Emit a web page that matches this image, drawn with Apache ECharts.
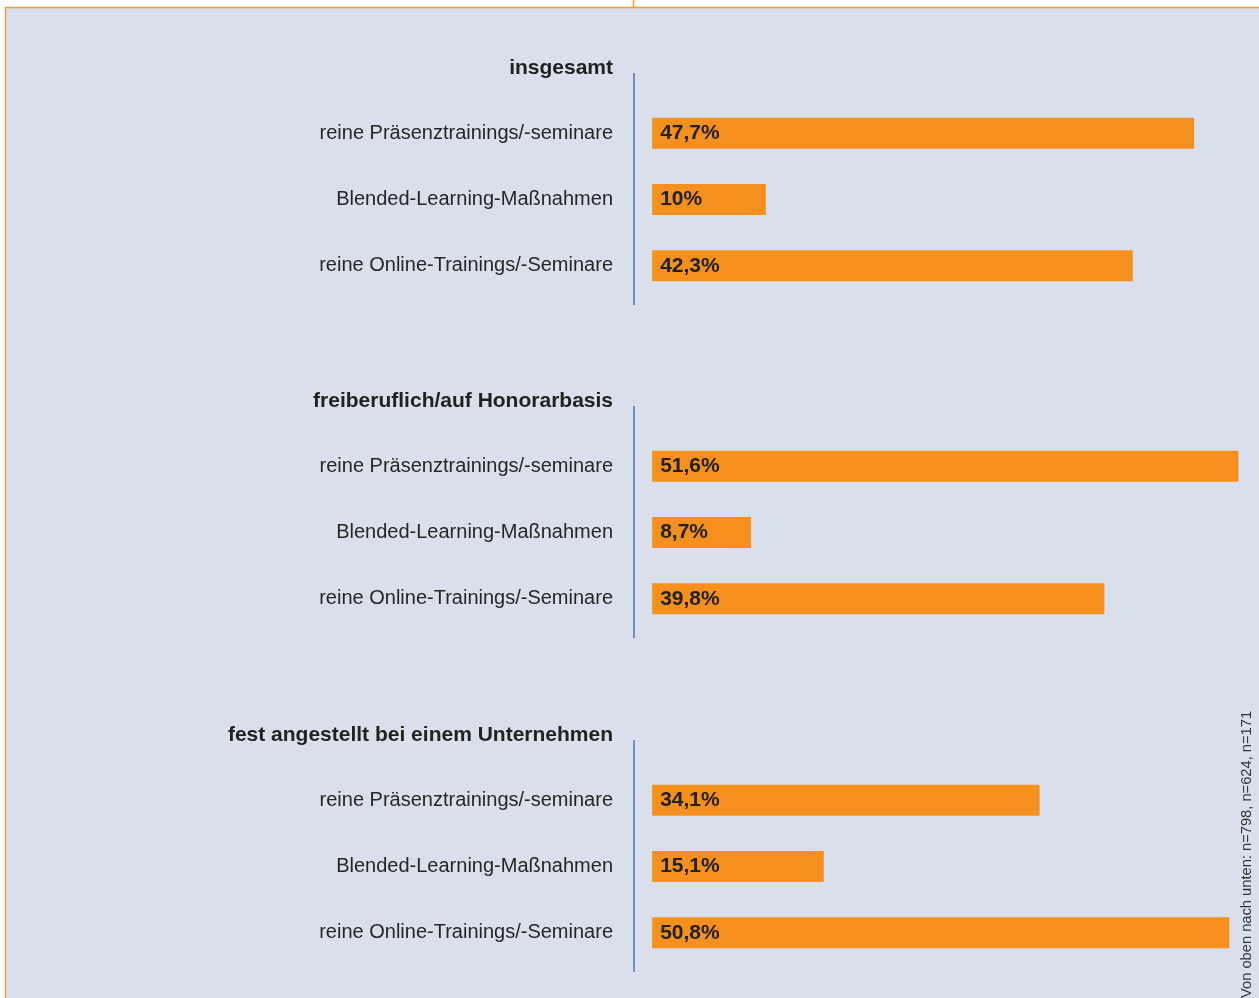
<!DOCTYPE html>
<html>
<head>
<meta charset="utf-8">
<script src="https://cdn.jsdelivr.net/npm/echarts@6/dist/echarts.min.js"></script>
<style>
  html, body { margin: 0; padding: 0; background: #fff; }
  #chart { width: 1259px; height: 998px; }
</style>
</head>
<body>
<div id="chart"></div>
<script>
// Gruppen und Kategorien
const groupTitles = ['insgesamt', 'freiberuflich/auf Honorarbasis', 'fest angestellt bei einem Unternehmen'];
const categories = ['reine Präsenztrainings/-seminare', 'Blended-Learning-Maßnahmen', 'reine Online-Trainings/-Seminare'];
// Werte in Prozent
const insgesamt = [47.7, 10, 42.3];
const freiberuflich = [51.6, 8.7, 39.8];
const festAngestellt = [34.1, 15.1, 50.8];
const note = 'Von oben nach unten: n=798, n=624, n=171';

const groups = [insgesamt, freiberuflich, festAngestellt];
const gridTops = [100, 433, 767];
const labelFont = '"Liberation Sans", sans-serif';

const fmt = v => String(v).replace('.', ',') + '%';

const chart = echarts.init(document.getElementById('chart'));

const grids = [], xAxes = [], yAxes = [], series = [], titles = [];
const graphics = [
    // Hintergrundfläche mit orangem Rahmen
    {type: 'rect', z: -10, shape: {x: 5.5, y: 7.5, width: 1270, height: 1000},
     style: {fill: '#dae0eb', stroke: '#f39a3a', lineWidth: 1.5}},
    {type: 'line', z: -10, shape: {x1: 633.5, y1: 0, x2: 633.5, y2: 7.5},
     style: {stroke: '#f39a3a', lineWidth: 1.5}},
    {type: 'text', x: 1254, y: 998, rotation: Math.PI / 2,
     style: {text: note, font: '14.7px "Liberation Sans", sans-serif', fill: '#333',
             textAlign: 'left', textVerticalAlign: 'bottom'}}
];

groups.forEach((vals, i) => {
    const top = gridTops[i];
    grids.push({left: 634, width: 609, top: top, height: 199});
    xAxes.push({type: 'value', gridIndex: i, min: -1.6, max: 52, show: false});
    yAxes.push({
        type: 'category', gridIndex: i, inverse: true, data: categories,
        axisLine: {show: false}, axisTick: {show: false},
        axisLabel: {margin: 21, color: '#262626', fontSize: 20, fontFamily: labelFont,
                    padding: [2, 0, 0, 0]}
    });
    series.push({
        type: 'bar', xAxisIndex: i, yAxisIndex: i, data: vals, barWidth: 31,
        itemStyle: {color: '#f5901e'},
        label: {show: true, position: 'insideLeft', distance: 8, formatter: p => fmt(p.value),
                color: '#222', fontSize: 21, fontWeight: 'bold', fontFamily: labelFont,
                padding: [2, 0, 0, 0]}
    });
    titles.push({
        text: groupTitles[i], right: 646, top: top - 42, padding: 0,
        textStyle: {fontSize: 21, fontWeight: 'bold', color: '#222', fontFamily: labelFont}
    });
    // Trennlinie links neben den Balken
    graphics.push({type: 'line', shape: {x1: 634, y1: top - 27, x2: 634, y2: top + 205},
                   style: {stroke: '#4f74ad', lineWidth: 1.5}});
});

chart.setOption({
    backgroundColor: '#fff',
    animation: false,
    title: titles,
    grid: grids,
    xAxis: xAxes,
    yAxis: yAxes,
    series: series,
    graphic: graphics
});
</script>
</body>
</html>
